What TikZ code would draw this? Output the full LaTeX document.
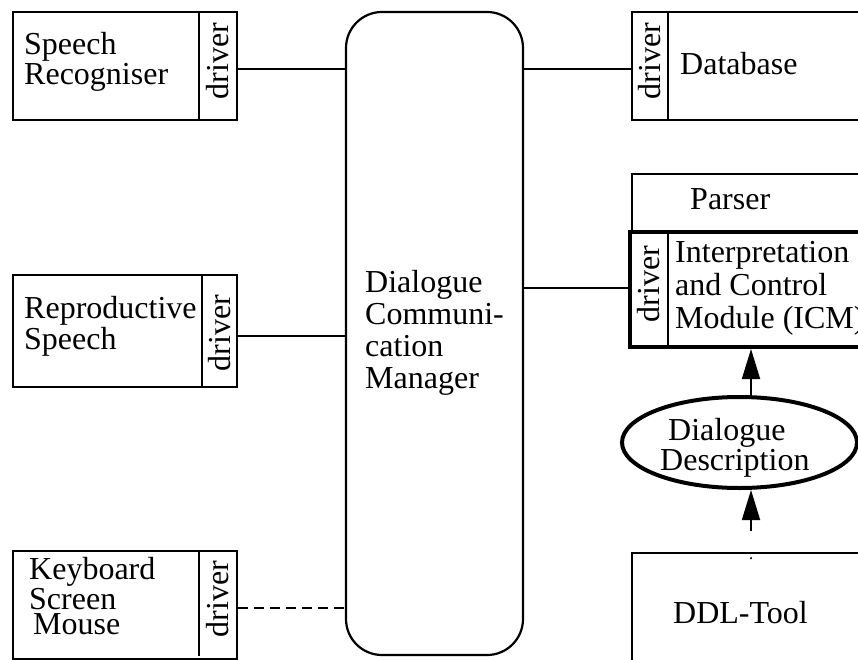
\documentclass[tikz,border=0pt]{standalone}
\usepackage{fontspec}
\setmainfont{Liberation Serif}
\usetikzlibrary{arrows.meta,shapes.geometric}
\begin{document}
\begin{tikzpicture}[x=1pt,y=-1pt,
  box/.style={draw,line width=1.6pt,inner sep=0pt,rectangle},
  thickbox/.style={draw,line width=4pt,inner sep=0pt,rectangle},
  lbl/.style={inner sep=0pt,anchor=base west,align=left,font=\fontsize{32}{32}\selectfont},
  drv/.style={inner sep=0pt,rotate=90,font=\fontsize{32}{32}\selectfont},
  link/.style={line width=1.6pt},
  arr/.style={line width=1.8pt,-{Triangle[length=30pt,width=18pt]}}]
\useasboundingbox (0,0) rectangle (858,660);
\clip (0,0) rectangle (858,660);
% helper coordinates
\coordinate (y1) at (0,69);
\coordinate (y2) at (0,336);
\coordinate (y3) at (0,608);
\coordinate (y4) at (0,288);
\coordinate (ax) at (751,0);
% central manager
\node[draw,line width=2.2pt,rounded corners=36pt,minimum width=177pt,minimum height=643pt,inner sep=0pt] (dcm) at (434.5,333.5) {};
\node[lbl] (dcmt) at (365,388) {Dialogue\\Communi-\\cation\\Manager};
% Speech recogniser
\node[box,minimum width=224pt,minimum height=108pt] (sr) at (125,66) {};
\draw[link] (199,12) -- (199,120);
\node[drv] (srd) at (218,61) {driver};
\node[lbl,font=\fontsize{32}{30}\selectfont] (srt) at (24,85) {Speech\\Recogniser};
% Reproductive speech
\node[box,minimum width=224pt,minimum height=112pt] (rs) at (125,331) {};
\draw[link] (202,275) -- (202,387);
\node[drv] (rsd) at (220,333) {driver};
\node[lbl,font=\fontsize{32}{27}\selectfont] (rst) at (24,349) {Reproductive\\Speech};
% Keyboard
\node[box,minimum width=224pt,minimum height=108pt] (kb) at (125,605) {};
\draw[link] (199,551) -- (199,656);
\node[drv] (kbd) at (218,599) {driver};
\node[lbl,font=\fontsize{32}{25}\selectfont] (kbt) at (29,634) {Keyboard\\Screen\\\hspace*{4pt}Mouse};
% Database
\node[box,minimum width=268pt,minimum height=108pt] (db) at (766,66) {};
\draw[link] (668,12) -- (668,120);
\node[drv] (dbd) at (650,61) {driver};
\node[lbl] (dbt) at (680,75) {Database};
% Parser
\node[box,minimum width=268pt,minimum height=58pt] (ps) at (766,203) {};
\node[lbl] (pst) at (690,210) {Parser};
% ICM
\node[thickbox,minimum width=270pt,minimum height=115pt] (icm) at (765,289.5) {};
\draw[link] (668,232) -- (668,347);
\node[drv] (icmd) at (649,284) {driver};
\node[lbl,font=\fontsize{32}{33}\selectfont] (icmt) at (675,328) {Interpretation\\and Control\\Module (ICM)};
% Dialogue description
\node[draw,ellipse,line width=4pt,minimum width=235pt,minimum height=91pt,inner sep=0pt] (dd) at (739.5,442.5) {};
\node[lbl,font=\fontsize{32}{30}\selectfont] (ddt) at (660,470) {\hspace*{8pt}Dialogue\\Description};
% DDL tool
\node[box,minimum width=268pt,minimum height=150pt] (ddl) at (766,628) {};
\node[lbl] (ddlt) at (673,623) {DDL-Tool};
% connectors
\draw[link] (sr.east |- y1) -- (dcm.west |- y1);
\draw[link] (rs.east |- y2) -- (dcm.west |- y2);
\draw[link,dash pattern=on 10pt off 6pt] (kb.east |- y3) -- (dcm.west |- y3);
\draw[link] (dcm.east |- y1) -- (db.west |- y1);
\draw[link] (dcm.east |- y4) -- (icm.west |- y4);
\draw[arr] (dd.north -| ax) -- (icm.south -| ax);
\draw[arr,shorten <=21pt] (ddl.north -| ax) -- (dd.south -| ax);
\fill ([yshift=-6pt]ddl.north -| ax) circle (1.2pt);
\end{tikzpicture}
\end{document}
